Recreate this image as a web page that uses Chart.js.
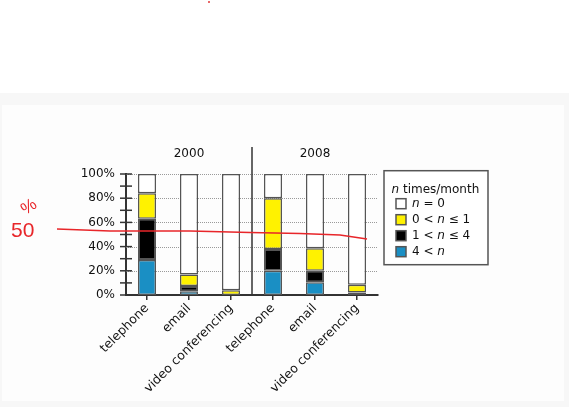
<!DOCTYPE html>
<html>
<head>
<meta charset="utf-8">
<script src="https://cdn.jsdelivr.net/npm/chart.js@4.4.0/dist/chart.umd.min.js"></script>
<style>
  html, body { margin: 0; padding: 0; background: #fff; }
  body { width: 569px; height: 407px; position: relative; overflow: hidden; font-family: "DejaVu Sans", sans-serif; }
  #band { position: absolute; left: 0; top: 93px; width: 569px; height: 314px; background: #f7f7f7; }
  #panel { position: absolute; left: 2px; top: 105px; width: 562px; height: 296px; background: #fdfdfd; }
  #dot { position: absolute; left: 208px; top: 1px; width: 2px; height: 2px; background: #e86a6a; }
</style>
</head>
<body>
<div id="dot"></div>
<div id="band"></div>
<div id="panel"><canvas id="chart" width="562" height="296"></canvas></div>
<script>
// categories: 3 media for each survey year
const categorias = ['telephone', 'email', 'video conferencing', 'telephone', 'email', 'video conferencing'];
const grupos = ['2000', '2008'];

// percent of people, stacked bottom -> top
const masDe4   = [29, 3, 0, 20, 10.5, 2];       // 4 < n
const de1a4    = [34, 4.5, 0, 18, 9.5, 0];      // 1 < n <= 4
const de0a1    = [21, 9.5, 4, 42, 18.6, 6.5];   // 0 < n <= 1
const ninguna  = [16, 83, 96, 20, 61.4, 91.5];  // n = 0

const yTicks = [0, 20, 40, 60, 80, 100];

// red hand-drawn marks on the picture (x in px, y in %)
const marcaX = [55, 108, 188, 248, 298, 338, 365];
const marcaY = [54.5, 52.9, 52.9, 51.7, 50.8, 49.6, 46.3];

const FONT = '"DejaVu Sans", sans-serif';
const TXT = '#111';
const EDGE = '#555';

function drawMixed(ctx, text, x, y) {
    // italic for the variable n
    for (const ch of text) {
        ctx.font = (ch === 'n' ? 'italic ' : '') + '12px ' + FONT;
        ctx.fillText(ch, x, y);
        x += ctx.measureText(ch).width;
    }
}

const extras = {
    id: 'extras',
    beforeDatasetsDraw(chart) {
        const { ctx, chartArea: a, scales: { y } } = chart;
        ctx.save();
        ctx.strokeStyle = '#9a9a9a';
        ctx.lineWidth = 1;
        ctx.setLineDash([1, 1]);
        yTicks.slice(1).forEach(v => {
            const py = Math.round(y.getPixelForValue(v)) + 0.5;
            ctx.beginPath();
            ctx.moveTo(a.left, py);
            ctx.lineTo(a.right, py);
            ctx.stroke();
        });
        ctx.restore();
    },
    afterDraw(chart) {
        const { ctx, chartArea: a, scales: { x, y } } = chart;
        ctx.save();

        // y minor/major ticks crossing the axis
        ctx.strokeStyle = '#333';
        ctx.lineWidth = 1.5;
        for (let v = 0; v <= 100; v += 10) {
            const py = y.getPixelForValue(v);
            ctx.beginPath();
            ctx.moveTo(a.left - 6, py);
            ctx.lineTo(a.left + 6, py);
            ctx.stroke();
        }

        // separator between years
        const sx = (x.getPixelForValue(2) + x.getPixelForValue(3)) / 2;
        ctx.beginPath();
        ctx.moveTo(sx, a.top - 27);
        ctx.lineTo(sx, a.bottom);
        ctx.stroke();

        // year titles
        ctx.fillStyle = TXT;
        ctx.font = '12px ' + FONT;
        ctx.textAlign = 'center';
        ctx.textBaseline = 'middle';
        ctx.fillText(grupos[0], x.getPixelForValue(1), a.top - 20);
        ctx.fillText(grupos[1], x.getPixelForValue(4), a.top - 20);

        // legend box
        const bx = a.right + 6, by = a.top - 3.3, bw = 104, bh = 94;
        ctx.fillStyle = '#fff';
        ctx.fillRect(bx, by, bw, bh);
        ctx.strokeStyle = EDGE;
        ctx.lineWidth = 1.5;
        ctx.strokeRect(bx, by, bw, bh);

        ctx.textAlign = 'left';
        ctx.fillStyle = TXT;
        ctx.font = 'italic 12px ' + FONT;
        ctx.fillText('n', bx + 7.5, by + 19);
        const nw = ctx.measureText('n').width;
        ctx.font = '12px ' + FONT;
        ctx.fillText(' times/month', bx + 7.5 + nw, by + 19);

        const ds = chart.data.datasets.slice().reverse();
        ds.forEach((d, i) => {
            const cy = by + 33 + i * 16;
            ctx.fillStyle = d.backgroundColor;
            ctx.fillRect(bx + 12, cy - 5, 10, 10);
            ctx.strokeStyle = EDGE;
            ctx.lineWidth = 1.5;
            ctx.strokeRect(bx + 12, cy - 5, 10, 10);
            ctx.fillStyle = TXT;
            drawMixed(ctx, d.label, bx + 28, cy);
        });

        // red annotation
        ctx.strokeStyle = '#e8262a';
        ctx.fillStyle = '#e8262a';
        ctx.lineWidth = 1.6;
        ctx.beginPath();
        marcaX.forEach((mx, i) => {
            const my = y.getPixelForValue(marcaY[i]);
            if (i === 0) ctx.moveTo(mx, my); else ctx.lineTo(mx, my);
        });
        ctx.stroke();
        ctx.font = '21px "Liberation Sans", sans-serif';
        ctx.textBaseline = 'alphabetic';
        ctx.fillText('50', 9, 132);
        ctx.save();
        ctx.translate(27, 102);
        ctx.rotate(-0.6);
        ctx.font = '17px "Liberation Sans", sans-serif';
        ctx.textAlign = 'center';
        ctx.textBaseline = 'middle';
        ctx.fillText('%', 0, 0);
        ctx.restore();

        ctx.restore();
    }
};

function serie(label, data, color) {
    return {
        label: label,
        data: data,
        backgroundColor: color,
        borderColor: EDGE,
        borderWidth: 1.5,
        borderSkipped: false,
        barPercentage: 0.43,
        categoryPercentage: 1
    };
}

new Chart(document.getElementById('chart'), {
    type: 'bar',
    data: {
        labels: categorias,
        datasets: [
            serie('4 < n', masDe4, '#1a8fc4'),
            serie('1 < n ≤ 4', de1a4, '#000000'),
            serie('0 < n ≤ 1', de0a1, '#fff200'),
            serie('n = 0', ninguna, '#ffffff')
        ]
    },
    options: {
        responsive: false,
        animation: false,
        layout: { padding: { top: 69, right: 186, left: 0, bottom: 0 } },
        plugins: {
            legend: { display: false },
            tooltip: { enabled: false }
        },
        scales: {
            x: {
                stacked: true,
                grid: { display: true, drawOnChartArea: false, drawTicks: true, tickLength: 5, offset: false, color: '#333', lineWidth: 1.5 },
                border: { display: true, color: '#333', width: 2 },
                ticks: { autoSkip: false, minRotation: 45, maxRotation: 45, padding: 1, color: TXT, font: { family: FONT, size: 12.5 } },
                afterFit: s => { s.height = 106; }
            },
            y: {
                stacked: true,
                min: 0,
                max: 100,
                grid: { display: false, drawTicks: false },
                border: { display: true, color: '#333', width: 2 },
                ticks: { stepSize: 20, padding: 11, color: TXT, font: { family: FONT, size: 12 }, callback: v => v + '%' },
                afterFit: s => { s.width = 124; }
            }
        }
    },
    plugins: [extras]
});
</script>
</body>
</html>
